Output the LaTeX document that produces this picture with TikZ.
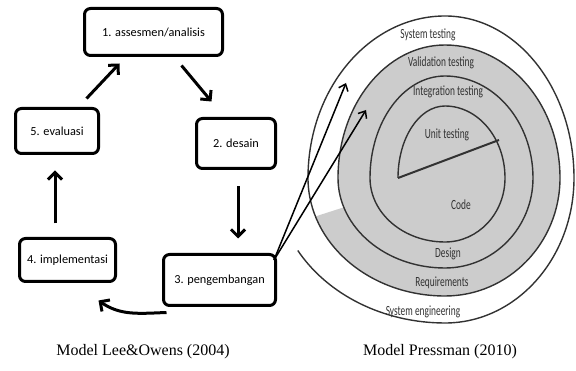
\documentclass[tikz,border=0pt]{standalone}
\usepackage{fontspec}
\usepackage{graphicx}
\setmainfont{Liberation Serif}
\newfontfamily\boxfont{Carlito}
\usetikzlibrary{arrows.meta,calc}
\definecolor{spgray}{RGB}{204,204,204}
\definecolor{spline}{RGB}{50,50,50}
\newcommand{\sqz}[1]{\scalebox{0.67}[1]{#1}}
\begin{document}
\begin{tikzpicture}[x=1pt,y=1pt,
  box/.style={draw=black, line width=3pt, rounded corners=6pt, font=\boxfont\fontsize{12.3}{14}\selectfont, inner sep=0pt},
  bigarrow/.style={line width=3pt, -{Straight Barb[length=7pt,width=14pt]}},
  thinarrow/.style={line width=1.5pt, -{Straight Barb[length=6pt,width=10pt]}},
  spiral/.style={draw=spline, line width=1.4pt},
  splabel/.style={font=\boxfont\fontsize{14}{14}\selectfont, text=spline, inner sep=0pt},
  caption/.style={font=\fontsize{16}{18}\selectfont, inner sep=0pt}]
\useasboundingbox (0,0) rectangle (576,-371);

% ---- Pressman spiral ----
\fill[spgray] (343.83,-207.30)
  arc[start angle=-161, end angle=-180, x radius=107, y radius=90]
  arc[start angle=180, end angle=90, x radius=107, y radius=133]
  arc[start angle=90, end angle=0, x radius=115, y radius=133]
  arc[start angle=0, end angle=-90, x radius=115, y radius=118]
  arc[start angle=-90, end angle=-161, x radius=137, y radius=118]
  -- cycle;

\draw[spiral] (398,-178)
  arc[start angle=180, end angle=90, x radius=47, y radius=72]
  arc[start angle=90, end angle=0, x radius=60, y radius=72]
  arc[start angle=0, end angle=-90, x radius=60, y radius=64]
  arc[start angle=-90, end angle=-180, x radius=75, y radius=64]
  arc[start angle=180, end angle=90, x radius=75, y radius=102]
  arc[start angle=90, end angle=0, x radius=88, y radius=102]
  arc[start angle=0, end angle=-90, x radius=88, y radius=90]
  arc[start angle=-90, end angle=-180, x radius=107, y radius=90]
  arc[start angle=180, end angle=90, x radius=107, y radius=133]
  arc[start angle=90, end angle=0, x radius=115, y radius=133]
  arc[start angle=0, end angle=-90, x radius=115, y radius=118]
  arc[start angle=-90, end angle=-180, x radius=137, y radius=118]
  arc[start angle=180, end angle=90, x radius=137, y radius=162]
  arc[start angle=90, end angle=0, x radius=129, y radius=162]
  arc[start angle=0, end angle=-90, x radius=129, y radius=145]
  arc[start angle=-90, end angle=-150, x radius=170, y radius=145];

\draw[draw=spline, line width=2pt] (398,-178) -- (499,-140);

\node[splabel] (st) at (428,-35) {\sqz{System testing}};
\node[splabel] (vt) at (441,-63) {\sqz{Validation testing}};
\node[splabel] (it) at (448,-92) {\sqz{Integration testing}};
\node[splabel] (ut) at (447,-135) {\sqz{Unit testing}};
\node[splabel] (co) at (461,-205) {\sqz{Code}};
\node[splabel] (de) at (448,-254) {\sqz{Design}};
\node[splabel] (re) at (442,-283) {\sqz{Requirements}};
\node[splabel] (se) at (423,-312) {\sqz{System engineering}};

% ---- Lee & Owens cycle ----
\node[box, minimum width=138pt, minimum height=47pt] (n1) at (153.5,-32) {1. assesmen/analisis};
\node[box, minimum width=79pt, minimum height=50pt] (n2) at (236,-143.5) {2. desain};
\node[box, minimum width=112pt, minimum height=51pt] (n3) at (219.5,-280) {3. pengembangan};
\node[box, minimum width=96pt, minimum height=43pt] (n4) at (67.5,-260) {4. implementasi};
\node[box, minimum width=83pt, minimum height=45pt] (n5) at (57,-131) {5. evaluasi};

\draw[bigarrow] ($(n5.north east)+(-13.5,8.5)$) -- ($(n1.south west)+(36.5,-6.5)$);
\draw[bigarrow] ($(n1.south east)+(-42.5,-8.5)$) -- ($(n2.north west)+(16.5,15.5)$);
\draw[bigarrow] ($(n2.south)+(2,-16.5)$) -- ($(n2.south |- n3.north)+(2,14.5)$);
\draw[bigarrow] ($(n3.south west)+(4.5,-5.5)$) to[out=182, in=-35] ($(n4.south east)+(-18.5,-17.5)$);
\draw[bigarrow] ($(n4.north -| n5.south)+(-2,13.5)$) -- ($(n5.south)+(-2,-15.5)$);

\coordinate (pa) at (346,-83);
\coordinate (pb) at (366,-110);
\draw[thinarrow] ($(n3.north east)+(-3,-7)$) -- (pa);
\draw[thinarrow] ($(n3.north east)+(-3,-7)$) -- (pb);

% ---- captions ----
\node[caption] (c1) at (143,-352) {Model Lee\&Owens (2004)};
\node[caption] (c2) at (440,-352) {Model Pressman (2010)};
\end{tikzpicture}
\end{document}
